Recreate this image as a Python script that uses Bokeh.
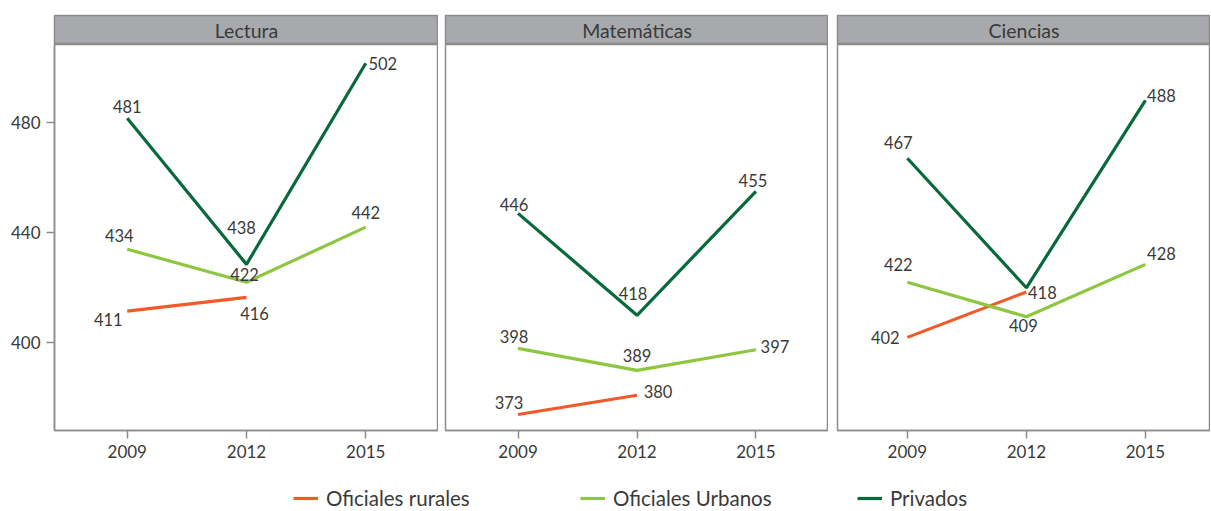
import numpy as np
from bokeh.plotting import figure
from bokeh.models import Range1d, Label, Legend, LegendItem, FixedTicker, ColumnDataSource
from bokeh.layouts import row, column
from bokeh.embed import file_html
from bokeh.resources import INLINE
from bokeh.core.properties import value

# ---------------- data ----------------
years = [2009, 2012, 2015]
subjects = ["Lectura", "Matemáticas", "Ciencias"]
series_names = ["Oficiales rurales", "Oficiales Urbanos", "Privados"]

lectura_rurales = [411.5, 416.5, np.nan]
lectura_urbanos = [434, 422, 442]
lectura_privados = [481.5, 428.5, 501.5]
lectura_rurales_lbl = ["411", "416", ""]
lectura_urbanos_lbl = ["434", "422", "442"]
lectura_privados_lbl = ["481", "438", "502"]

matematicas_rurales = [374, 381, np.nan]
matematicas_urbanos = [398, 390, 397.5]
matematicas_privados = [447, 410, 455]
matematicas_rurales_lbl = ["373", "380", ""]
matematicas_urbanos_lbl = ["398", "389", "397"]
matematicas_privados_lbl = ["446", "418", "455"]

ciencias_rurales = [402, 418.5, np.nan]
ciencias_urbanos = [422, 409.5, 428.5]
ciencias_privados = [467, 420, 488]
ciencias_rurales_lbl = ["402", "418", ""]
ciencias_urbanos_lbl = ["422", "409", "428"]
ciencias_privados_lbl = ["467", "", "488"]

y_ticks = [400, 440, 480]

# ---------------- styles ----------------
colors = ["#F15A29", "#8DC63F", "#08693A"]
FONT = "Lato"
TXT = "#3a3a3a"
GREY = "#8c8c8c"
STRIP = "#a7a9ac"

# label offsets (dx right, dy up) in pixels, per panel, per series
offsets = [
    [[(-19, -8), (8, -16), (0, 0)],
     [(-8, 14), (-2, 8), (0, 15)],
     [(0, 12), (-5, 37), (17, 0)]],
    [[(-9, 12), (21, 4), (0, 0)],
     [(-4, 12), (0, 15), (19, 3)],
     [(-4, 9), (-4, 22), (-3, 11)]],
    [[(-22, 0), (16, -1), (0, 0)],
     [(-9, 18), (-3, -9), (16, 11)],
     [(-9, 16), (0, 0), (16, 5)]],
]

panel_data = [
    ([lectura_rurales, lectura_urbanos, lectura_privados],
     [lectura_rurales_lbl, lectura_urbanos_lbl, lectura_privados_lbl]),
    ([matematicas_rurales, matematicas_urbanos, matematicas_privados],
     [matematicas_rurales_lbl, matematicas_urbanos_lbl, matematicas_privados_lbl]),
    ([ciencias_rurales, ciencias_urbanos, ciencias_privados],
     [ciencias_rurales_lbl, ciencias_urbanos_lbl, ciencias_privados_lbl]),
]

frame_widths = [384, 383, 373]
left_borders = [54, 7, 9]
x_ranges = [(2007.17, 2016.83), (2007.17, 2016.83), (2007.24, 2016.64)]
Y_RANGE = (368.2, 508.3)

cols = []
for i, subj in enumerate(subjects):
    fw = frame_widths[i]
    mbl = left_borders[i]
    # strip header
    s = figure(frame_width=fw, frame_height=29, x_range=Range1d(0, 1), y_range=Range1d(0, 1),
               min_border_left=mbl, min_border_right=0, min_border_top=15, min_border_bottom=0,
               x_axis_location=None, y_axis_location=None, toolbar_location=None,
               output_backend="svg", background_fill_color=STRIP,
               outline_line_color=GREY, outline_line_width=1.5)
    s.grid.visible = False
    s.add_layout(Label(x=0.5, y=0.5, text=subj, text_align="center", text_baseline="middle",
                       text_font=FONT, text_font_size="19.5px", text_color=TXT))

    p = figure(frame_width=fw, frame_height=386,
               x_range=Range1d(*x_ranges[i]), y_range=Range1d(*Y_RANGE),
               min_border_left=mbl, min_border_right=0, min_border_top=0, min_border_bottom=32,
               y_axis_location=("left" if i == 0 else None), toolbar_location=None,
               output_backend="svg", outline_line_color=GREY, outline_line_width=1.5)
    p.grid.visible = False
    p.xaxis.ticker = FixedTicker(ticks=years)
    p.xaxis.major_label_overrides = {y: str(y) for y in years}
    axes = [p.xaxis[0]] + ([p.yaxis[0]] if i == 0 else [])
    for ax in axes:
        ax.axis_line_color = GREY
        ax.axis_line_width = 1.5
        ax.major_tick_line_color = GREY
        ax.major_tick_line_width = 1.5
        ax.major_tick_out = 8
        ax.major_tick_in = 0
        ax.minor_tick_line_color = None
        ax.major_label_text_font = FONT
        ax.major_label_text_font_size = "17px"
        ax.major_label_text_color = TXT
        ax.major_label_standoff = 6
    if i == 0:
        p.yaxis.ticker = FixedTicker(ticks=y_ticks)

    vals_list, lbls_list = panel_data[i]
    for k in range(3):
        vals = vals_list[k]
        p.line(x=years, y=vals, line_color=colors[k], line_width=3.2)
    # labels
    for k in range(3):
        vals = vals_list[k]
        lbls = lbls_list[k]
        xs, ys, ts, dxs, dys = [], [], [], [], []
        for j in range(3):
            if lbls[j] == "":
                continue
            xs.append(years[j]); ys.append(vals[j]); ts.append(lbls[j])
            dxs.append(offsets[i][k][j][0]); dys.append(-offsets[i][k][j][1])
        src = ColumnDataSource(dict(x=xs, y=ys, t=ts, dx=dxs, dy=dys))
        p.text(x="x", y="y", text="t", x_offset="dx", y_offset="dy", source=src,
               text_align="center", text_baseline="middle", text_font=value(FONT),
               text_font_size="16.5px", text_color=TXT)
    cols.append(column(s, p, spacing=0))

panels = row(*cols, spacing=0)

total_w = sum(frame_widths) + sum(left_borders)
lf = figure(width=total_w, height=48, x_range=Range1d(0, 1), y_range=Range1d(0, 1),
            x_axis_location=None, y_axis_location=None, toolbar_location=None,
            output_backend="svg", outline_line_color=None, min_border=0)
lf.grid.visible = False
legend_x = [293, 580, 857]
for k, name in enumerate(series_names):
    r = lf.line(x=[np.nan], y=[np.nan], line_color=colors[k], line_width=3.2)
    leg = Legend(items=[LegendItem(label=name, renderers=[r])], location=(legend_x[k], 0),
                 orientation="horizontal", padding=0, margin=0, spacing=0,
                 border_line_color=None, background_fill_alpha=0,
                 glyph_width=25, glyph_height=20, label_standoff=8,
                 label_text_font=FONT, label_text_font_size="20.5px", label_text_color=TXT)
    lf.add_layout(leg)

layout = column(panels, lf, spacing=0)
open("out.html", "w").write(file_html(layout, INLINE))
